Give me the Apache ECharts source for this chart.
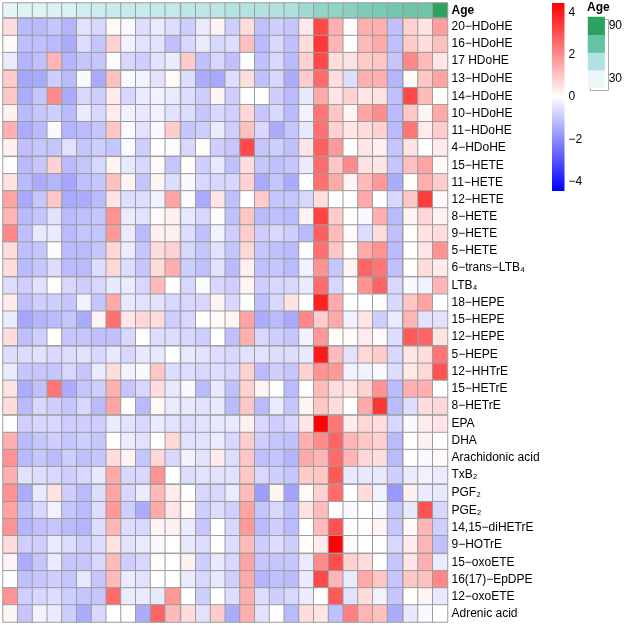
<!DOCTYPE html>
<html><head><meta charset="utf-8">
<script src="https://cdn.jsdelivr.net/npm/echarts@6/dist/echarts.min.js"></script>
<style>html,body{margin:0;padding:0;background:#fff}#c{width:625px;height:625px}</style>
</head><body><div id="c"></div>
<script>
const rowNames = ['20\u2212HDoHE','16\u2212HDoHE','17 HDoHE','13\u2212HDoHE','14\u2212HDoHE','10\u2212HDoHE','11\u2212HDoHE','4\u2212HDoHE','15\u2212HETE','11\u2212HETE','12\u2212HETE','8\u2212HETE','9\u2212HETE','5\u2212HETE','6\u2212trans\u2212LTB\u2084','LTB\u2084','18\u2212HEPE','15\u2212HEPE','12\u2212HEPE','5\u2212HEPE','12\u2212HHTrE','15\u2212HETrE','8\u2212HETrE','EPA','DHA','Arachidonic acid','TxB\u2082','PGF\u2082','PGE\u2082','14,15\u2212diHETrE','9\u2212HOTrE','15\u2212oxoETE','16(17)\u2212EpDPE','12\u2212oxoETE','Adrenic acid'];

const r00 = [0.6,-1.2,-1.2,-1.0,-1.3,-0.5,-0.7,0.1,-0.1,-0.6,-0.35,-0.6,-0.85,-0.35,0.2, -0.85,0.6,-1.1,-0.85,-1.0,0.4,3.2,1.4,0.05,1.4,1.4,-1.1,0.8,0.5,1.7];
const r01 = [0.1,-1.1,-1.1,-1.2,-1.45,-0.6,-1.0,0.8,-0.25,-0.5,-0.5,-1.1,-0.7,-0.35,-0.7, -0.6,1.1,-1.2,-0.7,-1.1,0.6,3.5,1.3,0.05,1.2,1.5,-1.1,0.9,0.6,1.1];
const r02 = [-0.35,-1.3,-1.1,1.3,-1.3,-1.0,-1.0,-0.05,-0.7,-0.85,-0.5,-0.35,0.9,-1.1,-0.7, -1.1,0,-1.1,-0.7,-1.2,0.8,3.2,0.6,0.5,0.9,1.0,-1.0,2.1,1.2,0.45];
const r03 = [0.9,-1.55,-1.5,-0.85,-1.2,-0.1,-1.5,1.1,-0.1,-0.25,-0.5,0.1,-0.6,-1.45,-1.5, -0.6,0.6,-1.1,-0.7,-1.45,0.9,2.6,0.6,-0.6,1.4,1.4,-1.3,0.1,1.0,1.6];
const r04 = [1.0,-1.45,-1.0,2.0,-1.45,-0.7,-0.85,0.35,-0.7,-0.35,-0.25,-0.35,-0.6,-0.85,0.2, -0.85,0,0,-0.85,-1.2,-0.4,1.5,0.45,0.8,0.45,0.5,-1.1,3.2,1.2,0.05];
const r05 = [0.25,-1.2,-1.0,-0.85,-1.2,-0.35,-0.7,0.35,-0.25,-0.4,-0.25,-0.5,-0.6,-1.0,-0.7, -0.85,0.7,-1.0,-0.7,-1.2,-0.25,2.4,1.0,0.2,1.6,2.0,-1.2,1.0,0.2,1.5];
const r06 = [1.4,-1.45,-1.2,-0.1,-1.3,-1.2,-1.0,1.0,-0.1,-0.5,-0.1,0.9,-1.0,-0.85,-0.35, -0.85,1.1,-0.7,-1.45,-1.0,-0.4,2.5,0.8,0.45,0.6,0.8,-1.2,2.4,0.35,0.9];
const r07 = [0.25,-1.1,-1.0,-1.0,-0.5,-1.0,-0.85,-1.0,-0.1,-0.85,0,-0.05,-0.7,0.05,-0.85, -1.0,3.2,-1.0,-0.85,-1.1,0.45,2.8,1.8,0,0.45,0.25,-1.0,0.5,0,0.35];
const r08 = [0.05,-1.2,-1.0,0.8,-1.2,-1.0,-0.7,0.2,-0.4,-0.7,0.1,-1.0,0.05,-0.85,-0.4, -1.1,0.6,-1.0,-1.1,-1.0,-0.35,2.6,1.0,2.0,0.5,0.45,-1.0,1.1,1.6,0.1];
const r09 = [0.5,-1.2,-1.45,-1.3,-1.55,-1.1,-1.0,1.1,0.2,-1.0,0.2,-0.6,-0.1,-0.7,-0.7, -0.7,0.8,-1.5,-1.0,-1.45,0,2.5,1.5,0.2,1.2,1.8,-1.45,0.05,1.4,0.9];
const r10 = [1.6,-1.5,-1.0,1.0,-1.5,-1.45,-1.2,0.5,-0.6,-0.6,-0.25,1.6,-0.05,-1.5,0.45, -1.1,0,0.9,-1.0,-1.0,-0.7,0.6,0,0,1.5,0,-0.7,1.0,3.4,0.1];
const r11 = [1.3,-1.2,-1.0,-0.5,-1.2,-1.1,-1.0,1.9,-0.35,-0.5,0.1,0.25,-0.4,-0.7,-0.05, -1.1,1.0,-1.2,-1.1,-1.2,0.2,3.3,0.9,0.05,-0.1,1.4,-1.2,0.2,0.7,0.25];
const r12 = [2.1,-1.1,-0.4,-0.35,-1.2,-1.0,-1.0,1.8,-0.35,-1.2,0.25,0.25,-0.6,-1.1,-0.25, -0.85,0.9,-0.85,-0.7,-0.85,-1.2,2.8,1.2,0.1,-0.6,0.6,-1.1,0.05,0.5,0.6];
const r13 = [0.6,-1.1,-1.0,-0.05,-1.2,-1.2,-1.0,0.7,-0.35,-1.0,0.6,0.8,-0.7,-1.0,-0.5, -1.0,0.7,-1.0,-1.1,-1.2,0,2.5,1.0,0.05,1.5,1.9,-1.2,0,0.45,1.9];
const r14 = [0.6,-1.2,-1.0,-0.6,-1.2,-1.2,-0.6,0.7,-0.6,-1.0,0.6,1.4,-0.85,-1.1,-0.5, -1.2,0.25,-1.1,-1.0,-1.2,-0.25,1.9,-1.0,0.2,2.7,2.4,-1.1,0,0.6,0.35];
const r15 = [-0.6,-0.85,-0.5,0.05,-0.7,-0.85,-0.7,-0.4,-0.35,-0.7,1.2,0,-0.7,-0.05,-0.7, -0.85,0.2,-0.85,-0.7,-0.7,-0.35,2.6,-0.7,0,1.9,2.7,-0.7,-0.1,-0.25,1.3];
const r16 = [0.35,-1.1,-0.85,-0.85,-1.0,-0.25,-1.0,1.5,-0.4,-0.5,-0.5,-0.7,-0.7,-0.7,0.2, -0.7,0,-1.1,-0.7,0.5,0,3.9,1.5,0,0,0,-0.7,1.0,1.6,0];
const r17 = [-0.35,-1.55,-1.3,-1.2,-1.0,-1.5,0.2,2.5,0.45,0.7,0.6,-0.85,-0.7,0.05,0.1, 0.2,1.6,-1.45,-1.2,-1.5,2.1,0.9,1.5,-0.25,0.45,-0.85,-0.35,1.3,-0.5,-0.5];
const r18 = [0.6,-1.1,-0.85,0,-1.0,-1.0,-1.1,-1.1,-0.7,0.05,-0.6,-0.6,-0.7,-0.85,0, -1.1,1.4,-0.7,-0.85,-1.0,-0.25,1.8,0.05,0.1,0.35,0.1,-0.6,2.9,2.7,0.5];
const r19 = [-0.6,-0.6,-0.5,-0.7,-0.6,-0.5,-0.7,-0.4,-0.7,-0.4,-0.4,0,-0.4,-0.5,-0.6, -0.7,-0.5,-0.5,-0.6,-0.6,-0.4,4.0,1.2,-0.5,0.7,0.9,-0.7,0.45,0.6,2.4];
const r20 = [-0.35,-1.0,-1.0,-1.0,-0.7,-1.0,-0.35,0.6,-0.25,-0.1,1.0,-0.6,-0.6,-0.7,-0.6, -0.7,0.8,-1.2,-0.85,-1.0,0.8,1.9,1.8,-0.25,-0.25,-0.1,-0.6,0.4,0.7,3.0];
const r21 = [0.5,-1.45,-1.1,2.4,-1.45,-1.0,-0.85,1.4,-1.0,-0.7,0.6,-0.4,-0.1,-1.2,-0.4, -1.1,0.8,0.2,0,-1.2,0,1.2,0.6,0.45,0.8,1.9,-1.2,1.4,1.4,0];
const r22 = [0.6,-1.2,-0.7,-0.85,-1.0,-0.7,-1.2,1.6,0,-1.2,0.1,-0.35,-0.4,-0.5,-0.4, -1.2,1.0,-1.2,-0.35,-1.0,0.2,1.0,0.6,0,1.5,3.5,-1.2,-0.6,0.6,0.7];
const r23 = [0.05,-0.85,-0.7,-0.7,-0.85,-0.85,-0.85,-0.35,-0.5,-0.7,-0.35,-0.5,-0.6,-0.5,-0.4, -0.4,0.25,-0.7,-0.85,-0.7,0.45,4.4,2.4,0.35,0.7,0.6,-0.7,-0.1,0.35,0.45];
const r24 = [1.4,-1.2,-1.0,-0.85,-1.0,-0.85,-1.0,0,-0.35,-0.5,0,0.7,-0.5,-0.5,-0.35, -0.7,0.9,-0.85,-1.0,-1.1,1.4,2.0,2.7,1.3,1.0,0.8,-1.2,0,0.25,0];
const r25 = [1.9,-1.2,-1.0,-1.2,-0.85,-1.1,-1.0,0.6,0.2,-1.0,0.7,-0.7,-0.25,-0.5,0.35, -0.6,1.0,-1.1,-1.0,-1.3,1.5,1.3,2.6,1.3,0.7,0.6,-1.2,0,-0.1,0.1];
const r26 = [1.4,-0.5,-0.6,-0.7,-0.85,-0.7,-0.4,1.5,-0.7,-0.7,1.9,0,-0.6,-0.5,-0.5, -0.5,1.0,-0.7,-0.85,-1.0,0.9,1.0,2.9,-0.4,-0.4,-0.4,-0.85,-0.35,-0.25,-0.35];
const r27 = [1.9,-1.45,-0.4,0.5,-0.85,-1.2,-0.6,1.6,-0.7,-0.35,1.2,0.35,0,-0.7,-0.7, -0.35,1.2,-1.7,0.2,-1.6,0.1,0.8,2.6,0,0.6,-0.25,-1.8,0.25,-0.35,-0.4];
const r28 = [1.6,-1.1,-0.7,-0.25,-1.0,-1.2,-0.6,1.8,-0.85,-1.45,1.5,0.45,0.1,-0.85,-0.6, -0.85,1.6,-1.0,-0.7,-1.1,0.5,1.2,0,-0.1,0,-0.1,-1.0,-0.4,3.0,-0.7];
const r29 = [1.9,-1.3,-1.1,-1.0,-1.2,-1.3,-0.6,1.3,-0.6,-0.7,0.2,0.25,-0.35,-1.0,0, -0.7,1.8,-1.2,-0.85,-1.2,0,1.2,3.0,0,0.05,0.2,-1.0,0.1,1.3,-0.85];
const r30 = [0.6,-0.85,-0.85,-0.35,-0.6,-0.85,-0.6,0.5,-0.5,-0.35,-0.1,0,-0.4,-0.6,0, -0.6,1.2,-0.85,-0.6,-0.85,0.05,0.35,4.4,0.1,0,0,-0.7,0.35,1.3,-1.1];
const r31 = [0.2,-1.45,-1.0,-0.35,-1.0,-1.0,-0.7,1.2,-0.85,-0.7,0.05,0,0.25,-0.85,-0.4, -0.7,1.6,-1.0,-1.0,-1.0,-0.35,2.0,3.1,0.8,0.6,0,-1.0,0.45,1.4,-0.35];
const r32 = [0,-1.1,-1.0,-0.85,-1.0,-0.4,-1.0,1.2,-0.35,-0.5,0,0,-0.35,-0.7,-0.4, -0.85,1.5,-1.3,-1.1,-1.2,-0.35,3.2,1.3,-0.35,1.5,1.0,-1.0,1.0,1.1,2.1];
const r33 = [1.9,-0.85,-0.7,-0.6,-0.85,-1.0,-1.0,2.6,-0.35,-0.35,-0.4,1.8,0,-0.85,0, -0.6,1.4,-0.6,-0.85,-0.7,-0.35,0,2.9,-0.5,0.6,-0.25,-1.0,0.05,0.2,-0.4];
const r34 = [0.2,-1.0,-0.25,-0.35,-0.85,-1.45,-0.7,0,0.05,-1.45,2.7,1.2,0.6,-0.5,0.9, -1.45,1.4,-0.5,0,-1.2,0.6,0.45,-1.1,2.2,1.3,1.1,-1.45,-0.4,-0.1,0];
const rowValues = [r00,r01,r02,r03,r04,r05,r06,r07,r08,r09,r10,r11,r12,r13,r14,r15,r16,r17,r18,r19,r20,r21,r22,r23,r24,r25,r26,r27,r28,r29,r30,r31,r32,r33,r34];

const ages = [33,35,35,36,36,40,41,42,43,43,44,44,46,46,47,49,50,50,50,51,55,59,59,61,64,65,67,68,68,90];
const colNames = ages.map((a, i) => 'S' + (i + 1));
const rowGroupSizes = [3,5,7,4,4,4,4,4];
const colGroupSizes = [12,15,3];
const scaleTicks = [4,2,0,-2,-4];
const scaleMax = 4.45;
const ageLegendValues = [30,50,70,90];
const ageLegendShown = [30,90];

const FONT = 'Liberation Sans, Arial, Helvetica, sans-serif';
const L = 3, R = 447.5, BAR_TOP = 3, T = 18.5, B = 622, GAP = 1;
const cw = (R - L - GAP * (colGroupSizes.length - 1)) / colNames.length;
const ch = (B - T - GAP * (rowGroupSizes.length - 1)) / rowNames.length;

const grids = [], xAxes = [], yAxes = [], series = [];
const mainSeries = [], ageSeries = [];

function addBlock(left, top, width, height, xData, yData, labelOn, labelStyle, data, isAge) {
  const gi = grids.length;
  grids.push({left: left, top: top, width: width, height: height, containLabel: false});
  xAxes.push({type: 'category', gridIndex: gi, data: xData, show: false});
  yAxes.push({type: 'category', gridIndex: gi, data: yData, inverse: true, position: 'right',
    axisLine: {show: false}, axisTick: {show: false}, splitLine: {show: false},
    axisLabel: Object.assign({show: labelOn, interval: 0, margin: 4, color: '#000', fontSize: 12, fontFamily: FONT, padding: [5, 0, 0, 0]}, labelStyle || {})});
  (isAge ? ageSeries : mainSeries).push(series.length);
  series.push({type: 'heatmap', xAxisIndex: gi, yAxisIndex: gi, data: data,
    itemStyle: {borderColor: '#9c9c9c', borderWidth: 1},
    emphasis: {disabled: true}, silent: true, progressive: 0});
}

let c0 = 0;
colGroupSizes.forEach((cs, j) => {
  const left = L + c0 * cw + j * GAP;
  const cols = colNames.slice(c0, c0 + cs);
  const last = j === colGroupSizes.length - 1;
  addBlock(left, BAR_TOP, cs * cw, T - GAP - BAR_TOP, cols, ['Age'], last, {fontWeight: 'bold'},
    cols.map((c, k) => [k, 0, ages[c0 + k]]), true);
  let r0 = 0;
  rowGroupSizes.forEach((rs, i) => {
    const top = T + r0 * ch + i * GAP;
    const rows = rowNames.slice(r0, r0 + rs);
    const data = [];
    for (let a = 0; a < rs; a++) for (let k = 0; k < cs; k++) data.push([k, a, rowValues[r0 + a][c0 + k]]);
    addBlock(left, top, cs * cw, rs * ch, cols, rows, last, null, data, false);
    r0 += rs;
  });
  c0 += cs;
});

const ageGi = grids.length;
grids.push({left: 588, top: 17, width: 18, height: 71});
xAxes.push({type: 'category', gridIndex: ageGi, data: ['Age'], show: false});
yAxes.push({type: 'category', gridIndex: ageGi, data: ageLegendValues.map(String), position: 'right',
  axisLine: {show: false}, axisTick: {show: false}, splitLine: {show: false},
  axisLabel: {interval: 0, margin: 4, color: '#000', fontSize: 12, fontFamily: FONT,
    formatter: v => ageLegendShown.includes(+v) ? v : ''}});
ageSeries.push(series.length);
series.push({type: 'heatmap', xAxisIndex: ageGi, yAxisIndex: ageGi, silent: true,
  data: ageLegendValues.map((v, i) => [0, i, v]), itemStyle: {borderWidth: 0}, emphasis: {disabled: true}});

const scGi = grids.length;
grids.push({left: 552, top: 3, width: 12.5, height: 188});
xAxes.push({type: 'value', gridIndex: scGi, show: false, min: 0, max: 1});
yAxes.push({type: 'value', gridIndex: scGi, min: -scaleMax, max: scaleMax, position: 'right',
  axisLine: {show: false}, axisTick: {show: false}, splitLine: {show: false},
  axisLabel: {margin: 4, color: '#000', fontSize: 12, fontFamily: FONT, showMinLabel: false, showMaxLabel: false,
    formatter: v => { const r = Math.round(v); return (Math.abs(v - r) < 1e-9 && scaleTicks.includes(r)) ? String(r).replace('-', '\u2212') : ''; }}});

const chart = echarts.init(document.getElementById('c'), null, {renderer: 'canvas'});
chart.setOption({
  animation: false,
  backgroundColor: '#fff',
  title: {text: 'Age', left: 587, top: 2, padding: 0, textStyle: {fontSize: 12, fontWeight: 'bold', fontFamily: FONT, color: '#000'}},
  grid: grids, xAxis: xAxes, yAxis: yAxes,
  visualMap: [
    {type: 'continuous', show: false, min: -scaleMax, max: scaleMax, seriesIndex: mainSeries,
      inRange: {color: ['#0000FF', '#FFFFFF', '#FF0000']}},
    {type: 'continuous', show: false, min: 30, max: 90, seriesIndex: ageSeries,
      inRange: {color: ['#edf8fb', '#b2e2e2', '#66c2a4', '#2ca25f']}}
  ],
  graphic: [
    {type: 'rect', left: 552, top: 3, silent: true, shape: {width: 12.5, height: 188},
      style: {fill: new echarts.graphic.LinearGradient(0, 0, 0, 1, [
        {offset: 0, color: '#FF0000'}, {offset: 0.5, color: '#FFFFFF'}, {offset: 1, color: '#0000FF'}])}},
    {type: 'rect', left: 588, top: 17, silent: true, shape: {width: 18, height: 71},
      style: {fill: 'none', stroke: '#aaaaaa', lineWidth: 1}}
  ],
  series: series
});
</script>
</body></html>
